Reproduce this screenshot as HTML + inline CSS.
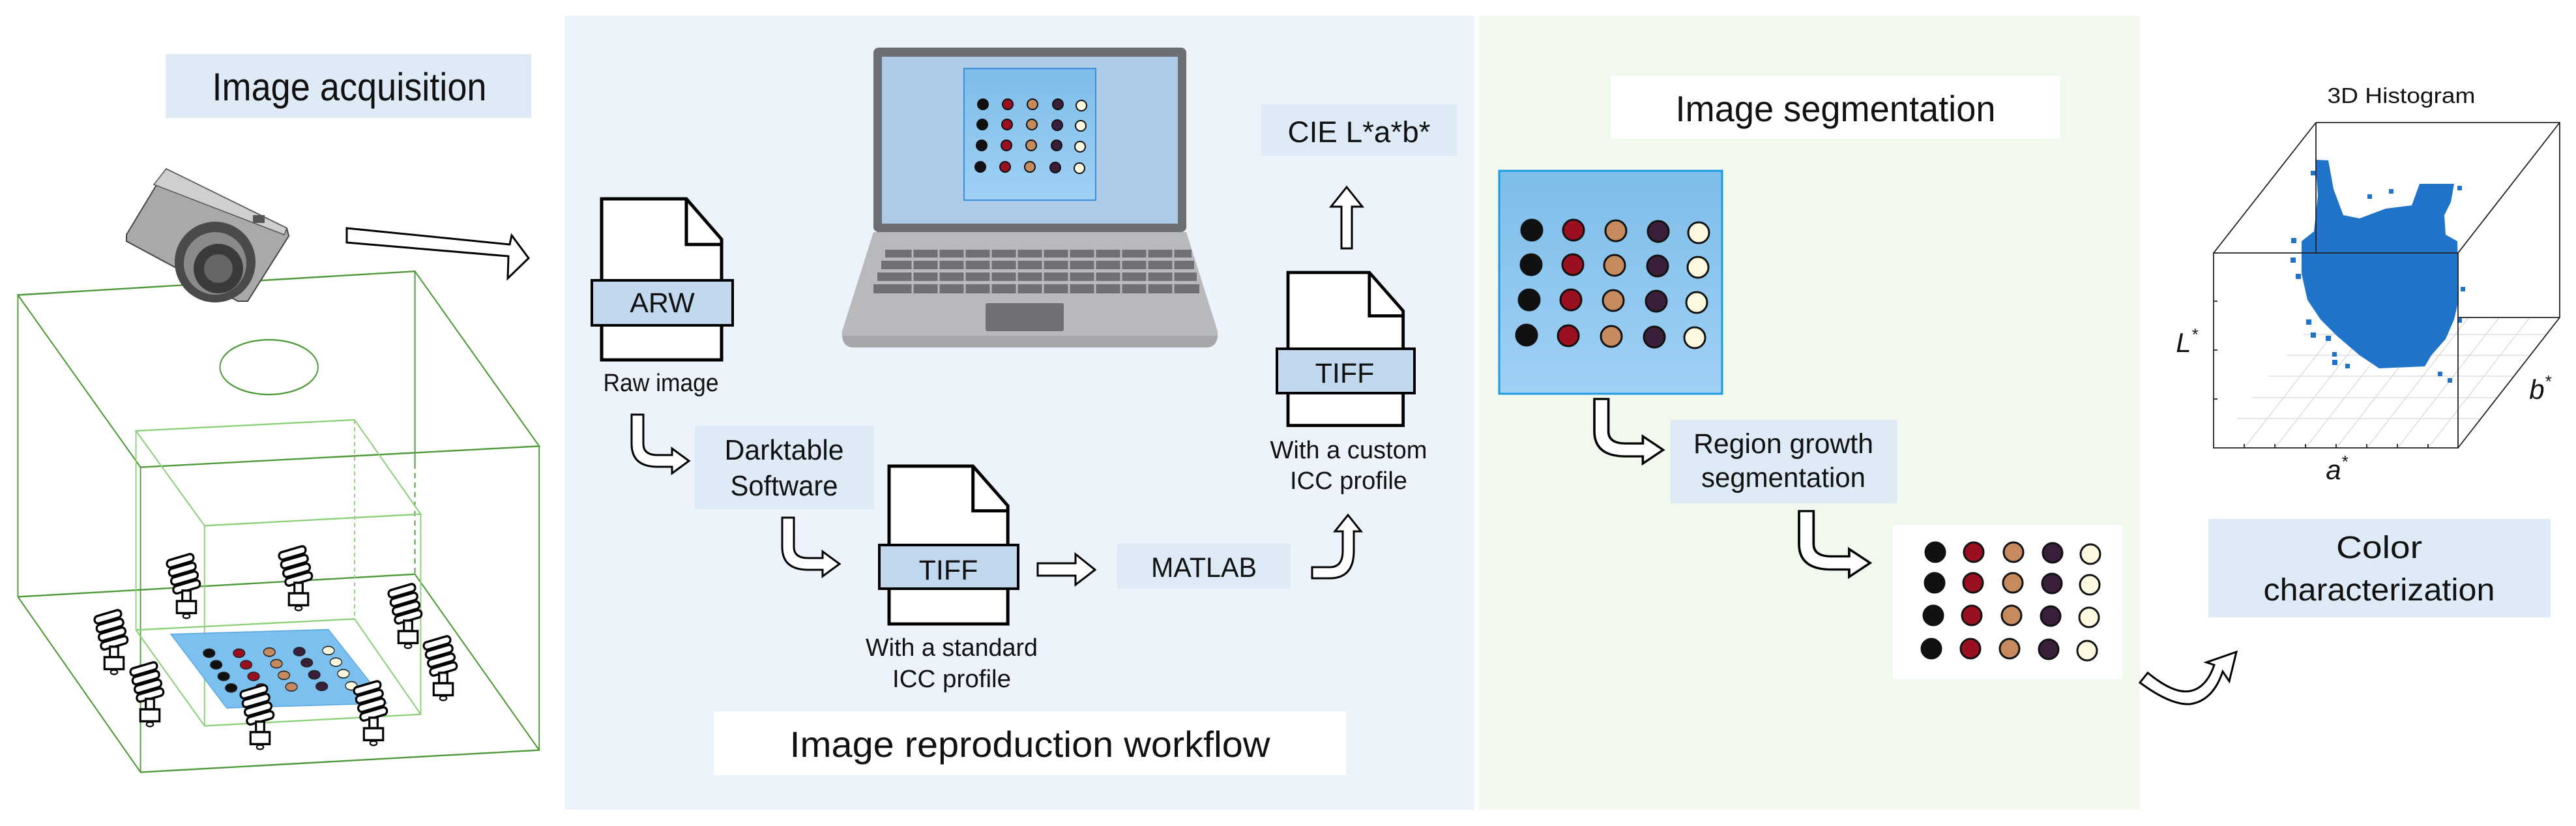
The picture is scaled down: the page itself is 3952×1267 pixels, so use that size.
<!DOCTYPE html>
<html><head><meta charset="utf-8"><style>
html,body{margin:0;padding:0;background:#fff}
svg{display:block}
text{font-family:"Liberation Sans",sans-serif;fill:#111}
</style></head><body>
<svg width="3952" height="1267" viewBox="0 0 3952 1267" xmlns="http://www.w3.org/2000/svg">
<defs>
<linearGradient id="bl" x1="0" y1="0" x2="0" y2="1"><stop offset="0" stop-color="#7dbde9"/><stop offset="1" stop-color="#a0d0f4"/></linearGradient>
<g id="bulb">
 <rect x="-20" y="-40" width="40" height="10" rx="5" fill="#fff" stroke="#000" stroke-width="3" transform="rotate(-15)"/>
 <rect x="-20" y="-28" width="40" height="10" rx="5" fill="#fff" stroke="#000" stroke-width="3" transform="rotate(-15)"/>
 <rect x="-20" y="-16" width="40" height="10" rx="5" fill="#fff" stroke="#000" stroke-width="3" transform="rotate(-15)"/>
 <rect x="-20" y="-4" width="40" height="10" rx="5" fill="#fff" stroke="#000" stroke-width="3" transform="rotate(-15)"/>
 <rect x="-6" y="6" width="12" height="14" fill="#fff" stroke="#000" stroke-width="3"/>
 <rect x="-14" y="20" width="28" height="16" fill="#fff" stroke="#000" stroke-width="3"/>
 <ellipse cx="0" cy="40" rx="5" ry="3" fill="#fff" stroke="#000" stroke-width="2"/>
</g>
<path id="bent" d="M0,0 H18 V45 Q18,62 40,62 H62 V52 L88,71 L62,90 V80 H40 Q0,80 0,45 Z" fill="#fff" stroke="#000" stroke-width="3"/>
<g id="file">
 <path d="M0,0 H130 L184,62 V247 H0 Z" fill="#fff" stroke="#000" stroke-width="5"/>
 <path d="M130,0 V70 H184" fill="none" stroke="#000" stroke-width="5"/>
</g>
</defs>

<rect x="867" y="24" width="1395" height="1218" fill="#ecf3fb"/>
<rect x="2269" y="24" width="1014" height="1218" fill="#f1f8ee"/>

<!-- ===== Image acquisition ===== -->
<rect x="254" y="83" width="561" height="98" fill="#deebf7"/>
<text x="536" y="154" font-size="60" text-anchor="middle" textLength="421" lengthAdjust="spacingAndGlyphs">Image acquisition</text>

<g transform="scale(0.6378,0.808)" fill="none">
 <g stroke="#4e9a3a" stroke-width="3">
  <path d="M43,560 L998,515 L1297,847 L338,887 Z"/>
  <path d="M43,560 V1133 L338,1466 L1297,1424 V847"/>
  <path d="M338,887 V1466"/>
  <path d="M43,1133 L998,1090 L1297,1424"/>
  <path d="M998,515 V880"/>
  <path d="M998,880 V1090" stroke-dasharray="10,8"/>
 </g>
 <ellipse cx="647" cy="697" rx="118" ry="52" stroke="#4e9a3a" stroke-width="3"/>
 <g stroke="#8fd07a" stroke-width="3">
  <path d="M327,818 L853,797 L1012,976 L492,998 Z"/>
  <path d="M327,818 V1196 L492,1378 L1012,1356 V976"/>
  <path d="M492,998 V1378"/>
  <path d="M327,1196 L853,1175 L1012,1356"/>
  <path d="M853,797 V1175" stroke-dasharray="8,6"/>
 </g>
 <path d="M411,1204 L790,1195 L930,1335 L545,1344 Z" fill="#7cc0ef" stroke="#5aa8e0" stroke-width="2"/>
 <g stroke="#222" stroke-width="2">
  <ellipse cx="503" cy="1240" rx="14" ry="8" fill="#111"/><ellipse cx="575" cy="1240" rx="14" ry="8" fill="#9b1020"/><ellipse cx="648" cy="1238" rx="14" ry="8" fill="#c58a5e"/><ellipse cx="720" cy="1237" rx="14" ry="8" fill="#3a1f3a"/><ellipse cx="790" cy="1235" rx="14" ry="8" fill="#fdf8e0"/>
  <ellipse cx="520" cy="1262" rx="14" ry="8" fill="#111"/><ellipse cx="592" cy="1262" rx="14" ry="8" fill="#9b1020"/><ellipse cx="665" cy="1260" rx="14" ry="8" fill="#c58a5e"/><ellipse cx="738" cy="1258" rx="14" ry="8" fill="#3a1f3a"/><ellipse cx="808" cy="1257" rx="14" ry="8" fill="#fdf8e0"/>
  <ellipse cx="538" cy="1284" rx="14" ry="8" fill="#111"/><ellipse cx="610" cy="1284" rx="14" ry="8" fill="#9b1020"/><ellipse cx="683" cy="1282" rx="14" ry="8" fill="#c58a5e"/><ellipse cx="756" cy="1281" rx="14" ry="8" fill="#3a1f3a"/><ellipse cx="826" cy="1279" rx="14" ry="8" fill="#fdf8e0"/>
  <ellipse cx="556" cy="1306" rx="14" ry="8" fill="#111"/><ellipse cx="628" cy="1306" rx="14" ry="8" fill="#9b1020"/><ellipse cx="701" cy="1304" rx="14" ry="8" fill="#c58a5e"/><ellipse cx="774" cy="1303" rx="14" ry="8" fill="#3a1f3a"/><ellipse cx="845" cy="1302" rx="14" ry="8" fill="#fdf8e0"/>
 </g>
</g>

<!-- camera -->
<g>
 <path d="M255,259 L440,350 L443,362 L380,462 L365,462 L194,370 L194,360 Z" fill="#a9a9a9" stroke="#444" stroke-width="2"/>
 <path d="M255,259 L440,350 L436,360 L236,283 Z" fill="#cfcfcf" stroke="#555" stroke-width="1.5"/>
 <circle cx="330" cy="402" r="62" fill="#4a4a4a"/>
 <circle cx="330" cy="404" r="48" fill="#8a8a8a"/>
 <circle cx="335" cy="412" r="38" fill="#3a3a3a"/>
 <circle cx="335" cy="412" r="22" fill="#666"/>
 <rect x="388" y="330" width="18" height="12" fill="#555"/>
</g>
<path d="M532,350 L782,375 L785,361 L811,396 L779,427 L780,393 L532,372 Z" fill="#fff" stroke="#000" stroke-width="3"/>

<!-- bulbs -->
<g transform="translate(286,899) scale(1.05,1.15)"><use href="#bulb"/></g>
<g transform="translate(458,887) scale(1.05,1.15)"><use href="#bulb"/></g>
<g transform="translate(626,945) scale(1.05,1.15)"><use href="#bulb"/></g>
<g transform="translate(175,985) scale(1.05,1.15)"><use href="#bulb"/></g>
<g transform="translate(230,1065) scale(1.05,1.15)"><use href="#bulb"/></g>
<g transform="translate(399,1100) scale(1.05,1.15)"><use href="#bulb"/></g>
<g transform="translate(573,1094) scale(1.05,1.15)"><use href="#bulb"/></g>
<g transform="translate(680,1025) scale(1.05,1.15)"><use href="#bulb"/></g>

<!-- ===== Image reproduction ===== -->
<path d="M1340,356 L1820,356 L1868,508 Q1870,533 1850,533 L1310,533 Q1290,533 1292,508 Z" fill="#b8b9bd"/>
<path d="M1292,515 L1868,515 Q1866,533 1850,533 L1310,533 Q1294,533 1292,515 Z" fill="#a5a6aa"/>
<rect x="1340" y="73" width="480" height="283" rx="8" fill="#6d6e72"/>
<rect x="1353" y="87" width="454" height="256" fill="#abcbe8"/>
<rect x="1479" y="105" width="202" height="202" fill="url(#bl)" stroke="#3a8fd8" stroke-width="2"/>
<g fill="#6f7073">
 <rect x="1358" y="383" width="470" height="12"/>
 <rect x="1352" y="400" width="480" height="13"/>
 <rect x="1346" y="418" width="490" height="13"/>
 <rect x="1340" y="436" width="500" height="14"/>
 <rect x="1512" y="465" width="120" height="43" rx="3"/>
</g>
<g stroke="#b8b9bd" stroke-width="3">
 <path d="M1400,380 V452 M1440,380 V452 M1480,380 V452 M1520,380 V452 M1560,380 V452 M1600,380 V452 M1640,380 V452 M1680,380 V452 M1720,380 V452 M1760,380 V452 M1800,380 V452"/>
</g>
<g stroke="#111" stroke-width="2">
 <circle cx="1508" cy="160" r="8" fill="#111"/><circle cx="1546" cy="160" r="8" fill="#9b1020"/><circle cx="1584" cy="160" r="8" fill="#c58a5e"/><circle cx="1623" cy="160" r="8" fill="#3a1f3a"/><circle cx="1659" cy="162" r="8" fill="#fdf8e0"/>
 <circle cx="1507" cy="191" r="8" fill="#111"/><circle cx="1545" cy="191" r="8" fill="#9b1020"/><circle cx="1583" cy="191" r="8" fill="#c58a5e"/><circle cx="1622" cy="192" r="8" fill="#3a1f3a"/><circle cx="1658" cy="193" r="8" fill="#fdf8e0"/>
 <circle cx="1506" cy="223" r="8" fill="#111"/><circle cx="1544" cy="223" r="8" fill="#9b1020"/><circle cx="1582" cy="223" r="8" fill="#c58a5e"/><circle cx="1621" cy="223" r="8" fill="#3a1f3a"/><circle cx="1657" cy="225" r="8" fill="#fdf8e0"/>
 <circle cx="1504" cy="256" r="8" fill="#111"/><circle cx="1542" cy="256" r="8" fill="#9b1020"/><circle cx="1580" cy="256" r="8" fill="#c58a5e"/><circle cx="1619" cy="257" r="8" fill="#3a1f3a"/><circle cx="1656" cy="258" r="8" fill="#fdf8e0"/>
</g>

<rect x="1935" y="160" width="300" height="79" fill="#deebf7"/>
<text x="2085" y="218" font-size="45" text-anchor="middle" textLength="219" lengthAdjust="spacingAndGlyphs">CIE L*a*b*</text>
<path d="M2058,381 V317 H2042 L2066,287 L2090,317 H2074 V381 Z" fill="#fff" stroke="#000" stroke-width="3"/>

<use href="#file" x="923" y="305"/>
<rect x="908" y="430" width="216" height="69" fill="#c2d8ef" stroke="#000" stroke-width="4"/>
<text x="1016" y="479" font-size="43" text-anchor="middle">ARW</text>
<text x="1014" y="600" font-size="38" text-anchor="middle" textLength="177" lengthAdjust="spacingAndGlyphs">Raw image</text>
<use href="#bent" x="969" y="636"/>

<rect x="1066" y="653" width="275" height="128" fill="#deebf7"/>
<text x="1203" y="705" font-size="44" text-anchor="middle" textLength="183" lengthAdjust="spacingAndGlyphs">Darktable</text>
<text x="1203" y="760" font-size="44" text-anchor="middle" textLength="165" lengthAdjust="spacingAndGlyphs">Software</text>
<use href="#bent" x="1200" y="794"/>

<g transform="translate(1364,715) scale(0.99,0.98)"><use href="#file"/></g>
<rect x="1349" y="836" width="213" height="67" fill="#c2d8ef" stroke="#000" stroke-width="4"/>
<text x="1455" y="889" font-size="43" text-anchor="middle">TIFF</text>
<text x="1460" y="1006" font-size="38" text-anchor="middle" textLength="264" lengthAdjust="spacingAndGlyphs">With a standard</text>
<text x="1460" y="1054" font-size="38" text-anchor="middle" textLength="182" lengthAdjust="spacingAndGlyphs">ICC profile</text>

<path d="M1592,864 H1650 V850 L1680,874 L1650,897 V883 H1592 Z" fill="#fff" stroke="#000" stroke-width="3"/>

<rect x="1714" y="834" width="266" height="69" fill="#deebf7"/>
<text x="1847" y="885" font-size="43" text-anchor="middle" textLength="162" lengthAdjust="spacingAndGlyphs">MATLAB</text>

<path d="M2013,870 H2040 Q2060,870 2060,845 V815 H2048 L2068,790 L2088,815 H2077 V845 Q2077,887 2040,887 H2013 Z" fill="#fff" stroke="#000" stroke-width="3"/>

<g transform="translate(1976,418) scale(0.96,0.95)"><use href="#file"/></g>
<rect x="1959" y="535" width="211" height="68" fill="#c2d8ef" stroke="#000" stroke-width="4"/>
<text x="2063" y="587" font-size="43" text-anchor="middle">TIFF</text>
<text x="2069" y="703" font-size="38" text-anchor="middle" textLength="241" lengthAdjust="spacingAndGlyphs">With a custom</text>
<text x="2069" y="750" font-size="38" text-anchor="middle" textLength="180" lengthAdjust="spacingAndGlyphs">ICC profile</text>

<rect x="1095" y="1091" width="970" height="98" fill="#fff"/>
<text x="1580" y="1161" font-size="56" text-anchor="middle" textLength="737" lengthAdjust="spacingAndGlyphs">Image reproduction workflow</text>

<!-- ===== Segmentation ===== -->
<rect x="2471" y="116" width="690" height="97" fill="#fff"/>
<text x="2816" y="186" font-size="56" text-anchor="middle" textLength="491" lengthAdjust="spacingAndGlyphs">Image segmentation</text>

<rect x="2300" y="262" width="342" height="342" fill="url(#bl)" stroke="#1a9be0" stroke-width="3"/>
<g stroke="#111" stroke-width="3">
 <circle cx="2350" cy="353" r="16" fill="#111"/><circle cx="2414" cy="353" r="16" fill="#9b1020"/><circle cx="2479" cy="354" r="16" fill="#c58a5e"/><circle cx="2544" cy="355" r="16" fill="#3a1f3a"/><circle cx="2606" cy="357" r="16" fill="#fdf8e0"/>
 <circle cx="2349" cy="406" r="16" fill="#111"/><circle cx="2413" cy="406" r="16" fill="#9b1020"/><circle cx="2477" cy="407" r="16" fill="#c58a5e"/><circle cx="2543" cy="408" r="16" fill="#3a1f3a"/><circle cx="2605" cy="410" r="16" fill="#fdf8e0"/>
 <circle cx="2346" cy="460" r="16" fill="#111"/><circle cx="2410" cy="460" r="16" fill="#9b1020"/><circle cx="2475" cy="461" r="16" fill="#c58a5e"/><circle cx="2541" cy="462" r="16" fill="#3a1f3a"/><circle cx="2603" cy="464" r="16" fill="#fdf8e0"/>
 <circle cx="2342" cy="514" r="16" fill="#111"/><circle cx="2406" cy="515" r="16" fill="#9b1020"/><circle cx="2472" cy="516" r="16" fill="#c58a5e"/><circle cx="2538" cy="517" r="16" fill="#3a1f3a"/><circle cx="2600" cy="518" r="16" fill="#fdf8e0"/>
</g>
<g transform="translate(2446,612) scale(1.2,1.1)"><use href="#bent"/></g>

<rect x="2563" y="644" width="348" height="128" fill="#deebf7"/>
<text x="2736" y="695" font-size="43" text-anchor="middle" textLength="276" lengthAdjust="spacingAndGlyphs">Region growth</text>
<text x="2736" y="747" font-size="43" text-anchor="middle" textLength="252" lengthAdjust="spacingAndGlyphs">segmentation</text>
<g transform="translate(2760,784) scale(1.24,1.12)"><use href="#bent"/></g>

<rect x="2904" y="805" width="352" height="237" fill="#fff"/>
<g stroke="#111" stroke-width="3">
 <circle cx="2969" cy="847" r="15" fill="#111"/><circle cx="3028" cy="847" r="15" fill="#9b1020"/><circle cx="3089" cy="847" r="15" fill="#c58a5e"/><circle cx="3149" cy="848" r="15" fill="#3a1f3a"/><circle cx="3207" cy="850" r="15" fill="#fdf8e0"/>
 <circle cx="2968" cy="894" r="15" fill="#111"/><circle cx="3027" cy="894" r="15" fill="#9b1020"/><circle cx="3088" cy="894" r="15" fill="#c58a5e"/><circle cx="3148" cy="895" r="15" fill="#3a1f3a"/><circle cx="3206" cy="897" r="15" fill="#fdf8e0"/>
 <circle cx="2966" cy="944" r="15" fill="#111"/><circle cx="3025" cy="944" r="15" fill="#9b1020"/><circle cx="3086" cy="944" r="15" fill="#c58a5e"/><circle cx="3146" cy="945" r="15" fill="#3a1f3a"/><circle cx="3205" cy="947" r="15" fill="#fdf8e0"/>
 <circle cx="2963" cy="995" r="15" fill="#111"/><circle cx="3023" cy="995" r="15" fill="#9b1020"/><circle cx="3083" cy="995" r="15" fill="#c58a5e"/><circle cx="3143" cy="996" r="15" fill="#3a1f3a"/><circle cx="3202" cy="998" r="15" fill="#fdf8e0"/>
</g>

<path d="M3283,1047 L3295,1032 Q3335,1065 3360,1060 Q3385,1055 3397,1020 L3385,1016 L3431,1000 L3420,1045 L3410,1030 Q3395,1075 3360,1080 Q3330,1082 3283,1047 Z" fill="#fff" stroke="#000" stroke-width="3"/>

<!-- ===== Histogram ===== -->
<text x="3684" y="158" font-size="33" text-anchor="middle" textLength="227" lengthAdjust="spacingAndGlyphs">3D Histogram</text>
<g stroke="#ddd" stroke-width="1.5" fill="none">
 <path d="M3444,686 L3599,487 M3491,686 L3646,487 M3538,686 L3693,487 M3585,686 L3740,487 M3632,686 L3787,487 M3679,686 L3834,487 M3726,686 L3881,487"/>
 <path d="M3432,642 L3806,642 M3455,610 L3830,610 M3480,577 L3855,577 M3508,545 L3882,545 M3533,513 L3905,513"/>
</g>
<path d="M3531,370 L3550,355 L3556,300 L3552,245 L3572,246 L3580,290 L3595,330 L3620,335 L3660,320 L3700,315 L3712,282 L3765,282 L3760,310 L3750,330 L3752,360 L3770,370 L3772,460 L3765,490 L3752,520 L3730,545 L3720,562 L3650,565 L3620,545 L3585,515 L3560,490 L3540,460 L3531,420 Z" fill="#1f74c9"/>
<g fill="#1f74c9">
 <rect x="3515" y="365" width="8" height="8"/><rect x="3514" y="395" width="8" height="8"/><rect x="3522" y="420" width="8" height="8"/><rect x="3538" y="490" width="8" height="8"/><rect x="3545" y="510" width="8" height="8"/><rect x="3568" y="515" width="8" height="8"/><rect x="3578" y="540" width="7" height="7"/><rect x="3578" y="552" width="8" height="8"/><rect x="3598" y="558" width="7" height="7"/><rect x="3740" y="570" width="7" height="7"/><rect x="3755" y="580" width="7" height="7"/><rect x="3770" y="488" width="7" height="7"/><rect x="3775" y="440" width="7" height="7"/><rect x="3770" y="285" width="7" height="7"/><rect x="3665" y="290" width="7" height="7"/><rect x="3632" y="298" width="7" height="7"/><rect x="3545" y="262" width="7" height="7"/><rect x="3745" y="320" width="7" height="7"/>
</g>
<g stroke="#222" stroke-width="1.8" fill="none">
 <rect x="3396" y="388" width="375" height="299"/>
 <path d="M3553,188 H3927 V487 H3771 M3396,388 L3553,188 M3771,388 L3927,188 M3771,687 L3927,487 M3553,188 V388"/>
 <path d="M3396,462 h6 M3396,537 h6 M3396,612 h6 M3443,687 v-6 M3490,687 v-6 M3537,687 v-6 M3584,687 v-6 M3631,687 v-6 M3678,687 v-6 M3725,687 v-6"/>
</g>
<text x="3355" y="540" font-size="42" font-style="italic" font-family="Liberation Serif,serif" text-anchor="middle">L<tspan font-size="26" dy="-18">*</tspan></text>
<text x="3897" y="612" font-size="42" font-style="italic" font-family="Liberation Serif,serif" text-anchor="middle">b<tspan font-size="26" dy="-18">*</tspan></text>
<text x="3585" y="735" font-size="42" font-style="italic" font-family="Liberation Serif,serif" text-anchor="middle">a<tspan font-size="26" dy="-18">*</tspan></text>

<rect x="3388" y="796" width="525" height="151" fill="#deebf7"/>
<text x="3650" y="856" font-size="48" text-anchor="middle" textLength="132" lengthAdjust="spacingAndGlyphs">Color</text>
<text x="3650" y="921" font-size="48" text-anchor="middle" textLength="355" lengthAdjust="spacingAndGlyphs">characterization</text>
</svg>
</body></html>
